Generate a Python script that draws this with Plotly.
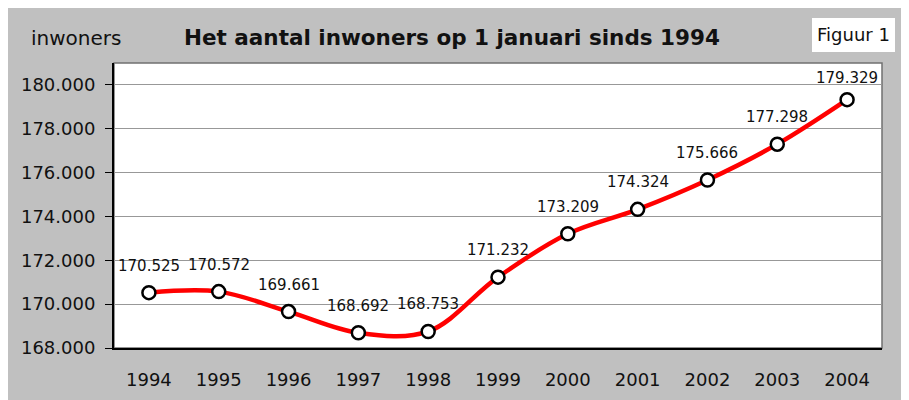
import plotly.graph_objects as go

years = ["1994", "1995", "1996", "1997", "1998", "1999", "2000", "2001", "2002", "2003", "2004"]
inwoners = [170525, 170572, 169661, 168692, 168753, 171232, 173209, 174324, 175666, 177298, 179329]
y_ticks = [168000, 170000, 172000, 174000, 176000, 178000, 180000]
y_tick_labels = ["168.000", "170.000", "172.000", "174.000", "176.000", "178.000", "180.000"]
data_labels = [f"{v:,}".replace(",", ".") for v in inwoners]

FONT = "DejaVu Sans, Verdana, sans-serif"
OFF = 8  # page offset of the figure (body margin)
W, H = 899, 392
# plot area in page coordinates
PL, PR, PT, PB = 114, 882, 63, 348
L, R, T, B = PL - OFF, PR - OFF, PT - OFF, PB - OFF

def px(x):
    return (x - PL) / (PR - PL)

def py(y):
    return (PB - y) / (PB - PT)

fig = go.Figure()
fig.add_trace(go.Scatter(
    x=years, y=inwoners, mode="lines+markers",
    line=dict(color="#ff0000", width=4.5, shape="spline", smoothing=1.0),
    marker=dict(symbol="circle", size=13, color="white", line=dict(color="black", width=2.5)),
    cliponaxis=False, hoverinfo="skip",
))

shapes = [
    dict(type="rect", xref="paper", yref="paper", x0=px(812), x1=px(895), y0=py(52), y1=py(18),
         fillcolor="white", line=dict(width=0), layer="below"),
    dict(type="rect", xref="paper", yref="paper", x0=0, x1=1, y0=0, y1=1,
         fillcolor="rgba(0,0,0,0)", line=dict(color="#707070", width=1.5), layer="below"),
]

annotations = [
    dict(text="inwoners", xref="paper", yref="paper", x=px(29), y=py(38), xanchor="left", yanchor="middle",
         showarrow=False, font=dict(family=FONT, size=20, color="#111111")),
    dict(text="<b>Het aantal inwoners op 1 januari sinds 1994</b>", xref="paper", yref="paper",
         x=px(452), y=py(38), xanchor="center", yanchor="middle",
         showarrow=False, font=dict(family=FONT, size=21.5, color="#111111")),
    dict(text="Figuur 1", xref="paper", yref="paper", x=px(853), y=py(35), xanchor="center", yanchor="middle",
         showarrow=False, font=dict(family=FONT, size=18, color="#111111")),
]
for i, (v, lab) in enumerate(zip(inwoners, data_labels)):
    annotations.append(dict(
        text=lab, x=i, y=v, xref="x", yref="y", showarrow=False,
        xanchor="center", yanchor="middle", yshift=22 if i == len(inwoners) - 1 else 27,
        font=dict(family=FONT, size=15, color="#111111"),
    ))

fig.update_layout(
    width=W, height=H,
    margin=dict(l=L, r=W - R, t=T, b=H - B, pad=0, autoexpand=False),
    paper_bgcolor="#c0c0c0", plot_bgcolor="white",
    showlegend=False,
    shapes=shapes, annotations=annotations,
    xaxis=dict(type="category", range=[-0.5, 10.5], showgrid=False, showline=True, linecolor="black",
               linewidth=2, ticks="", tickfont=dict(family=FONT, size=18, color="#111111"),
               ticklabelstandoff=14, zeroline=False, automargin=False),
    yaxis=dict(range=[168000, 181000], tickvals=y_ticks, ticktext=y_tick_labels, showgrid=True,
               gridcolor="#989898", gridwidth=1, showline=True, linecolor="black", linewidth=2,
               ticks="outside", ticklen=7, tickcolor="black", tickwidth=1,
               ticklabelstandoff=6, automargin=False,
               tickfont=dict(family=FONT, size=18, color="#111111"), zeroline=False),
)

fig.write_html("out.html")
